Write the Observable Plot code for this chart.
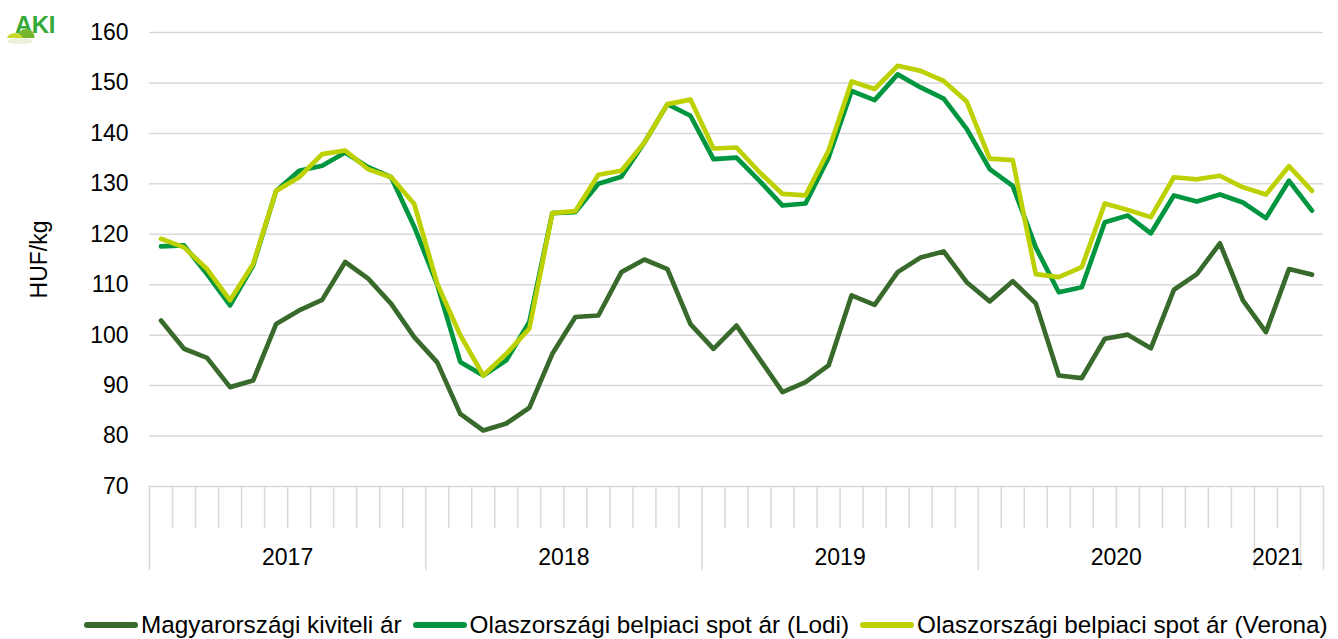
<!DOCTYPE html>
<html>
<head>
<meta charset="utf-8">
<script src="https://cdn.jsdelivr.net/npm/d3@7"></script>
<script src="https://cdn.jsdelivr.net/npm/@observablehq/plot@0.6"></script>
<style>
  html, body { margin: 0; padding: 0; background: #fff; }
  body { width: 1338px; height: 639px; position: relative; overflow: hidden; font-family: "Liberation Sans", Arial, sans-serif; }
  #logo { position: absolute; left: 0; top: 0; }
  #legend { display: flex; align-items: center; padding-left: 83px; margin-top: 6px; height: 28px; font-size: 24.3px; color: #000; white-space: nowrap; }
  .item { display: flex; align-items: center; margin-right: 10px; }
  .item svg { margin-right: 2px; }
</style>
</head>
<body>
<svg id="logo" width="66" height="50" viewBox="0 0 66 50">
  <defs>
    <clipPath id="hills"><rect x="0" y="0" width="66" height="38"/></clipPath>
  </defs>
  <text x="15" y="33" font-family="Liberation Sans, Arial" font-weight="bold" font-size="24" fill="#35a938" letter-spacing="-0.5">AKI</text>
  <g clip-path="url(#hills)">
    <ellipse cx="26" cy="37" rx="8.5" ry="8" fill="#74b72e"/>
    <ellipse cx="15" cy="39" rx="8" ry="6" fill="#c5d82a"/>
  </g>
  <ellipse cx="20" cy="41" rx="13" ry="3" fill="#e6efd0" opacity="0.8"/>
</svg>
<div id="chart"></div>
<div id="legend"></div>
<script>
// ---- data ----
const seriesNames = [
  "Magyarországi kiviteli ár",
  "Olaszországi belpiaci spot ár (Lodi)",
  "Olaszországi belpiaci spot ár (Verona)"
];
const seriesColors = ["#386a2b", "#00953f", "#bdd000"];

// Jan 2017 – Mar 2021, monthly (HUF/kg)
const hungarian = [
  102.9, 97.3, 95.5, 89.7, 91.0, 102.2, 104.9, 107.0, 114.5, 111.2, 106.2, 99.6,
  94.6, 84.4, 81.1, 82.5, 85.6, 96.3, 103.6, 103.9, 112.5, 115.0, 113.1, 102.2,
  97.3, 101.9, 95.3, 88.7, 90.7, 94.0, 107.9, 106.0, 112.5, 115.4, 116.6, 110.5,
  106.7, 110.7, 106.3, 92.0, 91.5, 99.3, 100.1, 97.4, 109.0, 112.1, 118.2, 106.9,
  100.6, 113.1, 112.0
];
const lodi = [
  117.6, 117.8, 112.1, 105.9, 113.8, 128.6, 132.6, 133.6, 136.2, 133.3, 131.3, 121.5,
  110.0, 94.7, 92.0, 95.0, 102.6, 124.2, 124.4, 130.0, 131.4, 138.2, 145.8, 143.5,
  134.9, 135.2, 130.6, 125.7, 126.1, 135.2, 148.4, 146.6, 151.7, 149.1, 146.9, 140.9,
  132.9, 129.6, 117.4, 108.5, 109.5, 122.4, 123.7, 120.2, 127.7, 126.5, 127.9, 126.3,
  123.2, 130.6, 124.7
];
const verona = [
  119.1, 117.4, 113.1, 106.9, 114.1, 128.6, 131.3, 135.9, 136.6, 132.9, 131.3, 126.0,
  110.2, 100.0, 92.0, 96.3, 101.3, 124.2, 124.6, 131.8, 132.6, 138.2, 145.8, 146.7,
  137.0, 137.2, 132.3, 128.0, 127.7, 136.6, 150.3, 148.8, 153.4, 152.4, 150.4, 146.3,
  135.0, 134.7, 112.1, 111.5, 113.5, 126.1, 124.8, 123.4, 131.3, 130.9, 131.6, 129.3,
  127.9, 133.5, 128.6
];

// category axis groups (year labels and number of months in each group)
const groupLabels = ["2017", "2018", "2019", "2020", "2021", ""];
const groupCounts = [12, 12, 12, 12, 2, 1];

const yTicks = [70, 80, 90, 100, 110, 120, 130, 140, 150, 160];
const yLabel = "HUF/kg";

// ---- derived ----
const allSeries = [hungarian, lodi, verona];
const rows = allSeries.flatMap((vals, s) => vals.map((v, i) => ({i, v, s: seriesNames[s]})));
const n = hungarian.length;

const groupBounds = [-0.5];
const groupCenters = [];
let acc = 0;
groupCounts.forEach((c, g) => {
  groupCenters.push({x: acc + (c - 1) / 2, label: groupLabels[g]});
  acc += c;
  groupBounds.push(acc - 0.5);
});
const monthBounds = d3.range(1, n).map(i => i - 0.5).filter(b => !groupBounds.includes(b));
const labelMap = new Map(groupCenters.filter(d => d.label).map(d => [d.x, d.label]));

const chart = Plot.plot({
  width: 1338,
  height: 605,
  marginLeft: 149,
  marginRight: 15,
  marginTop: 32,
  marginBottom: 119,
  style: {fontFamily: "Liberation Sans, Arial, sans-serif", fontSize: "23px", color: "#000", background: "#fff"},
  x: {domain: [-0.5, n - 0.5], axis: null},
  y: {domain: [70, 160], axis: null},
  color: {domain: seriesNames, range: seriesColors},
  marks: [
    Plot.ruleY(yTicks, {stroke: "#d9d9d9", strokeWidth: 1.5}),
    Plot.axisY(yTicks, {tickSize: 0, tickPadding: 21, fontSize: 23, label: null}),
    Plot.axisX(monthBounds, {tickSize: 42, stroke: "#d9d9d9", strokeWidth: 1.5, tickFormat: () => "", label: null}),
    Plot.axisX(groupBounds, {tickSize: 84, stroke: "#d9d9d9", strokeWidth: 1.5, tickFormat: () => "", label: null}),
    Plot.axisX([...labelMap.keys()], {tickSize: 0, tickPadding: 62, fontSize: 23, tickFormat: d => labelMap.get(d), label: null}),
    Plot.text([yLabel], {frameAnchor: "left", textAnchor: "middle", dx: -110, rotate: -90, fontSize: 23, fill: "#000"}),
    Plot.line(rows, {x: "i", y: "v", z: "s", stroke: "s", strokeWidth: 4.7, strokeLinejoin: "round", strokeLinecap: "round"})
  ]
});
document.getElementById("chart").appendChild(chart);

// legend
const legend = document.getElementById("legend");
seriesNames.forEach((name, k) => {
  const item = document.createElement("div");
  item.className = "item";
  item.innerHTML = `<svg width="56" height="10"><line x1="4" y1="5" x2="52" y2="5" stroke="${seriesColors[k]}" stroke-width="6" stroke-linecap="round"/></svg><span>${name}</span>`;
  legend.appendChild(item);
});
</script>
</body>
</html>
